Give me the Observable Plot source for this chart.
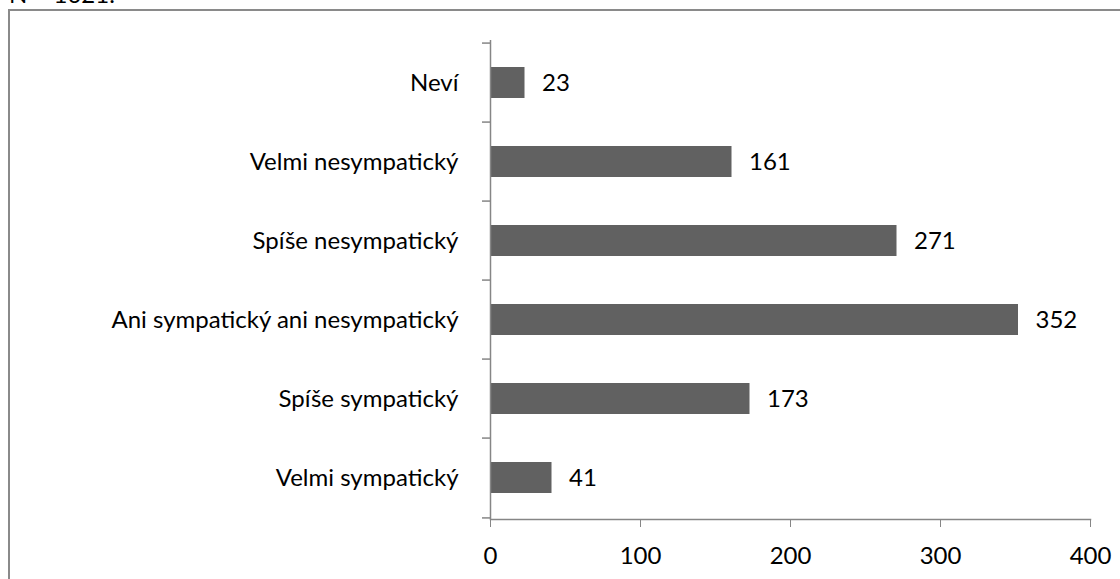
<!DOCTYPE html>
<html>
<head>
<meta charset="utf-8">
<script src="https://cdn.jsdelivr.net/npm/d3@7"></script>
<script src="https://cdn.jsdelivr.net/npm/@observablehq/plot@0.6"></script>
<style>
  html, body { margin: 0; padding: 0; background: #fff; }
  #wrap { position: relative; width: 1120px; height: 579px; overflow: hidden; background: #fff; }
  #border { position: absolute; left: 8px; top: 9px; width: 1200px; height: 700px; border: 2px solid #8a8a8a; box-sizing: border-box; }
  #note { position: absolute; left: 9px; top: -20px; font-family: "Lato", sans-serif; font-size: 24px; line-height: 1.2; color: #000; white-space: nowrap; }
  #chart { position: absolute; left: 0; top: 0; }
</style>
</head>
<body>
<div id="wrap">
  <div id="border"></div>
  <div id="note">N = 1021.</div>
  <div id="chart"></div>
</div>
<script>
const categories = ["Neví", "Velmi nesympatický", "Spíše nesympatický", "Ani sympatický ani nesympatický", "Spíše sympatický", "Velmi sympatický"];
const values = [23, 161, 271, 352, 173, 41];
const xTicks = [0, 100, 200, 300, 400];

const data = categories.map((c, i) => ({category: c, value: values[i]}));

const W = 1120, H = 579, mT = 40, mB = 60, mL = 490, mR = 30;
const band = (H - mT - mB) / categories.length;
const axisGray = "#868686";
const font = "'Lato', sans-serif";
const fs = 24;

const plot = Plot.plot({
  width: W,
  height: H,
  marginTop: mT,
  marginBottom: mB,
  marginLeft: mL,
  marginRight: mR,
  style: {fontFamily: font, fontSize: fs + "px", color: "#000", background: "transparent", overflow: "visible"},
  x: {domain: [0, 400]},
  y: {domain: categories, padding: 0},
  marks: [
    Plot.barX(data, {x: "value", y: "category", fill: "#616161", insetTop: 24, insetBottom: 24}),
    Plot.text(data, {x: "value", y: "category", text: d => String(d.value), textAnchor: "start", dx: 17, fill: "#000", fontSize: fs}),
    Plot.ruleX([0], {stroke: axisGray, strokeWidth: 1.5}),
    Plot.ruleY(categories, {y: d => d, dy: -band / 2, x1: -16 / 3, x2: 0, stroke: axisGray, strokeWidth: 1.5}),
    Plot.ruleY([categories[categories.length - 1]], {y: d => d, dy: band / 2, x1: -16 / 3, x2: 0, stroke: axisGray, strokeWidth: 1.5}),
    Plot.frame({anchor: "bottom", stroke: axisGray, strokeWidth: 1.5}),
    Plot.axisX({ticks: xTicks, tickSize: 8, tickPadding: 19, stroke: axisGray, fill: "#000", label: null, tickFormat: d => String(d), fontSize: fs}),
    Plot.axisY({tickSize: 0, tickPadding: 32, fill: "#000", label: null, fontSize: fs})
  ]
});
document.getElementById("chart").appendChild(plot);
</script>
</body>
</html>
